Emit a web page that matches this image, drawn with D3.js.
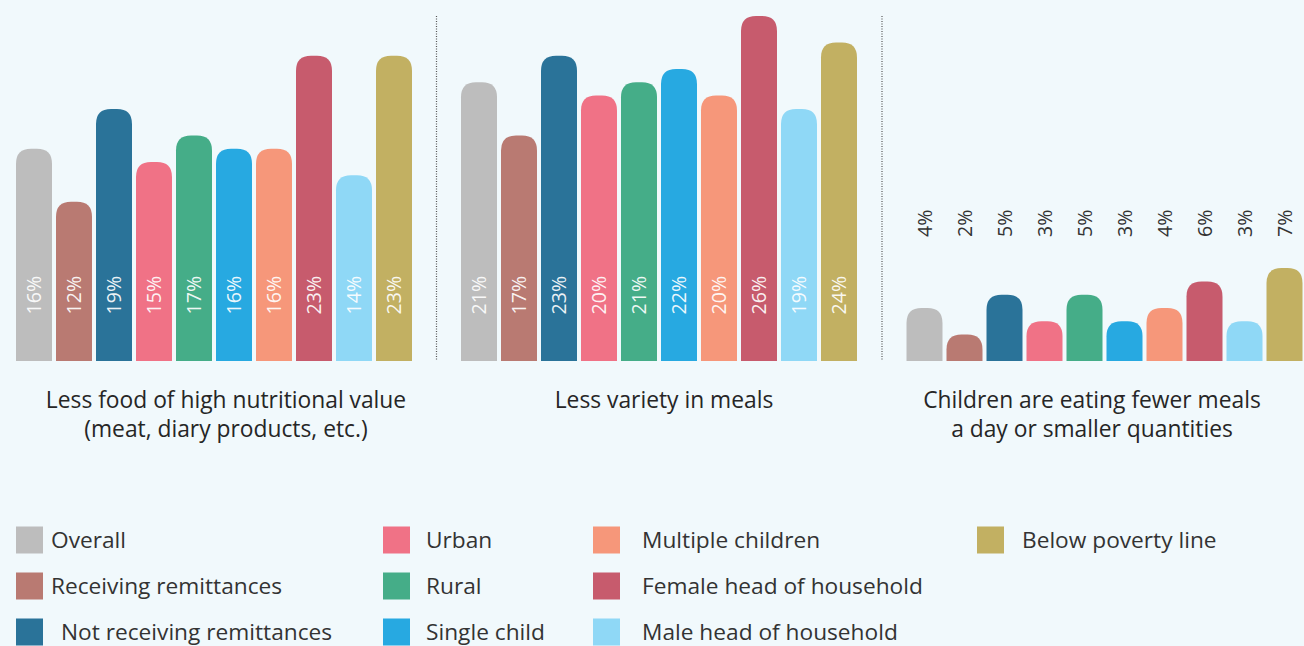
<!DOCTYPE html>
<html>
<head>
<meta charset="utf-8">
<script src="https://cdn.jsdelivr.net/npm/d3@7"></script>
<style>
  html, body { margin: 0; padding: 0; background: #f1f9fc; }
  svg { display: block; font-family: "Open Sans", sans-serif; }
</style>
</head>
<body>
<svg id="chart" width="1304" height="646"></svg>
<script>
const categories = [
  "Overall", "Receiving remittances", "Not receiving remittances", "Urban", "Rural",
  "Single child", "Multiple children", "Female head of household", "Male head of household",
  "Below poverty line"
];
const colors = [
  "#bdbdbd", "#b97a72", "#2a7399", "#f07286", "#45ad88",
  "#27a9e1", "#f6977a", "#c75b6d", "#8fd8f6", "#c2b062"
];
const lessNutritional = [16, 12, 19, 15, 17, 16, 16, 23, 14, 23];
const lessVariety = [21, 17, 23, 20, 21, 22, 20, 26, 19, 24];
const fewerMeals = [4, 2, 5, 3, 5, 3, 4, 6, 3, 7];
const panelTitles = [
  ["Less food of high nutritional value", "(meat, diary products, etc.)"],
  ["Less variety in meals"],
  ["Children are eating fewer meals", "a day or smaller quantities"]
];

const svg = d3.select("#chart");
const baseline = 361;
const y = d3.scaleLinear().domain([0, 26]).range([baseline, 16]);

const panels = [
  { values: lessNutritional, x0: 16, titleX: 226, inside: true },
  { values: lessVariety, x0: 461, titleX: 664, inside: true },
  { values: fewerMeals, x0: 906.5, titleX: 1092, inside: false }
];

// rounded top bar
const barPath = (x, w, top, r) => {
  r = Math.min(r, (baseline - top), w / 2);
  return `M${x},${baseline}V${top + r}Q${x},${top} ${x + r},${top}H${x + w - r}Q${x + w},${top} ${x + w},${top + r}V${baseline}Z`;
};

panels.forEach((p, pi) => {
  const x = d3.scaleBand().domain(categories).range([p.x0, p.x0 + 396]).paddingInner(0.1);
  const g = svg.append("g");

  g.selectAll("path.bar")
    .data(p.values)
    .enter().append("path")
    .attr("class", "bar")
    .attr("d", (d, i) => barPath(x(categories[i]), x.bandwidth(), y(d), 15))
    .attr("fill", (d, i) => colors[i]);

  g.selectAll("text.val")
    .data(p.values)
    .enter().append("text")
    .attr("class", "val")
    .attr("transform", (d, i) => {
      const cx = x(categories[i]) + x.bandwidth() / 2 + 7;
      return p.inside ? `translate(${cx},276) rotate(-90)` : `translate(${cx},237) rotate(-90)`;
    })
    .attr("text-anchor", p.inside ? "end" : "start")
    .attr("font-size", 19.5)
    .attr("fill", p.inside ? "#ffffff" : "#333333")
    .attr("fill-opacity", p.inside ? 0.92 : 1)
    .text(d => d + "%");

  const t = g.append("text")
    .attr("text-anchor", "middle")
    .attr("font-size", 22.8)
    .attr("fill", "#262626");
  panelTitles[pi].forEach((line, li) => {
    t.append("tspan").attr("x", p.titleX).attr("y", 408 + li * 29).text(line);
  });
});

// dotted dividers
[436.5, 882].forEach(xd => {
  svg.append("line")
    .attr("x1", xd).attr("x2", xd).attr("y1", 16).attr("y2", 361)
    .attr("stroke", "#555").attr("stroke-width", 1.2)
    .attr("stroke-dasharray", "1,1.5");
});

// legend
const legendCols = [
  { sq: 16, tx: 51, items: [0, 1, 2] },
  { sq: 383, tx: 426, items: [3, 4, 5] },
  { sq: 593, tx: 642, items: [6, 7, 8] },
  { sq: 977, tx: 1022, items: [9] }
];
const rowY = [540, 586, 632];
legendCols.forEach(col => {
  col.items.forEach((ci, ri) => {
    svg.append("rect")
      .attr("x", col.sq).attr("y", rowY[ri] - 13.5)
      .attr("width", 27).attr("height", 27)
      .attr("fill", colors[ci]);
    svg.append("text")
      .attr("x", col.tx + (ci === 2 ? 10 : 0))
      .attr("y", rowY[ri])
      .attr("dy", "0.35em")
      .attr("font-size", 22.7)
      .attr("fill", "#333")
      .text(categories[ci]);
  });
});
</script>
</body>
</html>
